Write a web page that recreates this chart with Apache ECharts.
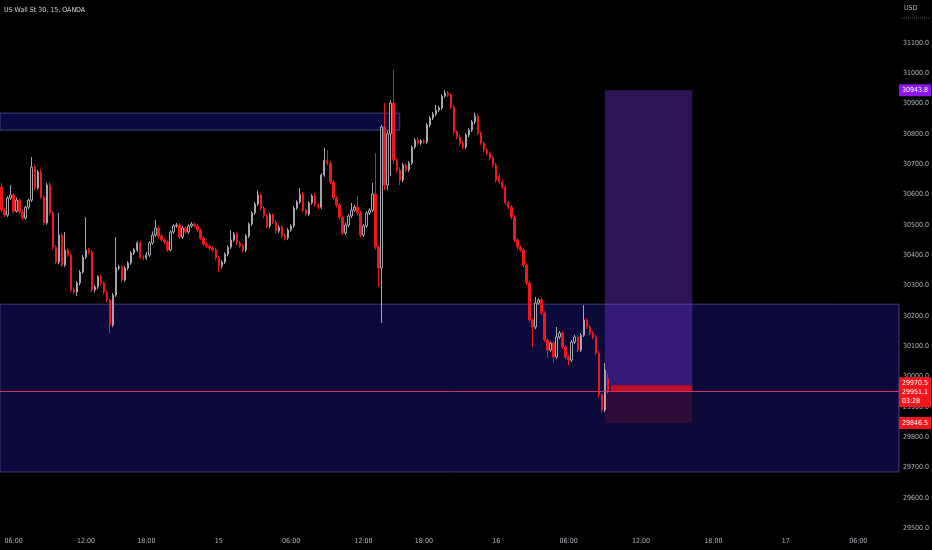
<!DOCTYPE html>
<html>
<head>
<meta charset="utf-8">
<script src="https://cdn.jsdelivr.net/npm/echarts@6/dist/echarts.min.js"></script>
<style>
html,body{margin:0;padding:0;background:#000;}
#c{width:932px;height:550px;}
</style>
</head>
<body>
<div id="c"></div>
<script>
// ---- DATA ----
const chartTitle = 'US Wall St 30, 15, OANDA';
const currency = 'USD';
// 15-minute candles: [open, close, low, high]
const ohlc = [
[30624,30548,30540,30638],[30548,30532,30525,30556],[30532,30588,30526,30594],[30588,30598,30582,30631],
[30598,30545,30538,30604],[30545,30581,30540,30590],[30581,30542,30535,30586],[30542,30522,30515,30549],
[30522,30558,30517,30563],[30558,30581,30552,30586],[30581,30690,30575,30723],[30690,30621,30614,30697],
[30621,30674,30615,30680],[30674,30591,30585,30682],[30591,30506,30498,30596],[30506,30631,30500,30638],
[30631,30539,30532,30640],[30539,30426,30418,30545],[30426,30377,30370,30432],[30377,30466,30370,30539],
[30466,30367,30360,30472],[30367,30417,30360,30476],[30417,30400,30394,30424],[30400,30285,30278,30406],
[30285,30278,30270,30292],[30278,30308,30265,30314],[30308,30344,30300,30350],[30344,30393,30338,30400],
[30393,30417,30386,30525],[30417,30410,30402,30424],[30410,30285,30278,30416],[30285,30295,30276,30302],
[30295,30328,30288,30334],[30328,30308,30300,30335],[30308,30278,30270,30314],[30278,30252,30245,30284],
[30252,30169,30143,30258],[30169,30268,30162,30275],[30268,30357,30262,30459],[30357,30361,30350,30368],
[30361,30318,30311,30367],[30318,30357,30312,30364],[30357,30374,30350,30380],[30374,30407,30368,30413],
[30407,30417,30400,30424],[30417,30440,30410,30446],[30440,30393,30386,30446],[30393,30390,30382,30400],
[30390,30400,30384,30410],[30400,30440,30394,30446],[30440,30466,30434,30478],[30466,30489,30460,30516],
[30489,30463,30456,30495],[30463,30450,30444,30470],[30450,30443,30436,30456],[30443,30417,30410,30449],
[30417,30476,30412,30482],[30476,30496,30470,30502],[30496,30499,30490,30506],[30499,30459,30452,30505],
[30459,30489,30453,30495],[30489,30476,30470,30495],[30476,30496,30470,30502],[30496,30502,30490,30509],
[30502,30496,30489,30508],[30496,30483,30476,30502],[30483,30456,30450,30489],[30456,30436,30430,30462],
[30436,30430,30423,30442],[30430,30423,30416,30436],[30423,30417,30410,30430],[30417,30390,30382,30423],
[30390,30364,30344,30396],[30364,30377,30356,30384],[30377,30403,30370,30409],[30403,30426,30396,30432],
[30426,30450,30420,30483],[30450,30469,30444,30476],[30469,30440,30434,30475],[30440,30430,30424,30446],
[30430,30417,30410,30436],[30417,30463,30410,30469],[30463,30502,30456,30508],[30502,30539,30496,30545],
[30539,30568,30532,30575],[30568,30598,30562,30614],[30598,30555,30548,30604],[30555,30529,30522,30562],
[30529,30496,30489,30535],[30496,30532,30490,30539],[30532,30509,30502,30538],[30509,30479,30472,30516],
[30479,30492,30473,30499],[30492,30463,30456,30498],[30463,30456,30448,30470],[30456,30483,30450,30490],
[30483,30496,30477,30502],[30496,30555,30490,30561],[30555,30575,30549,30581],[30575,30601,30568,30621],
[30601,30548,30541,30608],[30548,30535,30528,30555],[30535,30572,30528,30578],[30572,30595,30566,30601],
[30595,30565,30558,30605],[30565,30558,30550,30572],[30558,30664,30552,30670],[30664,30713,30658,30753],
[30713,30703,30696,30746],[30703,30641,30634,30710],[30641,30588,30581,30648],[30588,30565,30558,30595],
[30565,30525,30518,30572],[30525,30473,30466,30531],[30473,30499,30466,30506],[30499,30529,30492,30535],
[30529,30548,30522,30572],[30548,30558,30542,30565],[30558,30539,30532,30595],[30539,30466,30459,30545],
[30466,30496,30460,30502],[30496,30539,30489,30545],[30539,30548,30532,30555],[30548,30601,30542,30638],
[30601,30426,30418,30736],[30426,30357,30295,30432],[30357,30822,30176,30829],[30822,30631,30614,30901],
[30631,30800,30614,30810],[30800,30901,30660,30911],[30901,30713,30700,31010],[30713,30680,30672,30720],
[30680,30647,30631,30690],[30647,30697,30640,30704],[30697,30680,30672,30704],[30680,30703,30674,30710],
[30703,30756,30697,30762],[30756,30779,30750,30786],[30779,30769,30762,30786],[30769,30776,30762,30782],
[30776,30773,30766,30782],[30773,30829,30766,30835],[30829,30852,30822,30858],[30852,30865,30845,30872],
[30865,30878,30858,30895],[30878,30885,30872,30892],[30885,30924,30878,30930],[30924,30934,30918,30944],
[30934,30928,30920,30941],[30928,30888,30880,30934],[30888,30806,30798,30895],[30806,30789,30782,30812],
[30789,30769,30762,30796],[30769,30756,30748,30776],[30756,30796,30750,30802],[30796,30812,30789,30818],
[30812,30839,30806,30845],[30839,30858,30832,30870],[30858,30802,30795,30865],[30802,30769,30762,30808],
[30769,30746,30739,30776],[30746,30736,30729,30752],[30736,30720,30712,30742],[30720,30697,30690,30726],
[30697,30647,30640,30704],[30661,30641,30634,30668],[30641,30624,30617,30648],[30624,30572,30565,30631],
[30572,30558,30551,30578],[30558,30525,30518,30565],[30525,30450,30443,30532],[30450,30426,30419,30456],
[30426,30417,30410,30432],[30417,30367,30360,30423],[30367,30308,30300,30373],[30308,30186,30178,30314],
[30186,30163,30097,30192],[30163,30242,30156,30262],[30242,30252,30236,30258],[30252,30209,30202,30258],
[30209,30120,30113,30215],[30120,30087,30061,30126],[30087,30110,30080,30116],[30110,30064,30044,30116],
[30064,30130,30057,30163],[30130,30143,30123,30150],[30143,30097,30090,30150],[30097,30064,30057,30104],
[30064,30054,30037,30070],[30054,30113,30047,30120],[30113,30130,30106,30137],[30130,30087,30080,30136],
[30087,30136,30080,30143],[30136,30186,30130,30235],[30186,30163,30156,30192],[30163,30143,30136,30170],
[30143,30130,30122,30150],[30130,30077,30070,30137],[30077,29939,29930,30084],[29939,29889,29879,29946],
[29889,30021,29882,30044],[29993,29951.1,29945,30011]
];
const yTicks = [29500,29600,29700,29800,29900,30000,30100,30200,30300,30400,30500,30600,30700,30800,30900,31000,31100];
const xTickTimes = ['00:00','06:00','12:00','18:00'];
// zones (price levels)
const resistanceZone = [30868, 30812];   // top-left box
const supportZone = [30238, 29685];      // wide box
const targetPrice = 30943.8;
const entryPrice = 29970.5;
const stopPrice = 29846.5;
const lastPrice = 29951.1;
const countdown = '03:28';

// ---- time categories (15 min bars, session break 17:00-18:00 on past bars) ----
const nSlots = 298;
function pad(n){return (n<10?'0':'')+n;}
const cats = [];
(function(){
  let d=14,h=5,m=0;
  for (let k=0;k<nSlots;k++){
    cats.push(d+' '+pad(h)+':'+pad(m));
    m+=15; if(m===60){m=0;h++; if(h===24){h=0;d++;}}
    if (k+1 < ohlc.length && h===17 && m===0) { h=18; }
  }
})();
const boxEndIdx = 132, toolStartIdx = 200, toolEndIdx = 229, pnlStartIdx = 202;

const FONT = "'Liberation Sans Narrow','DejaVu Sans Condensed','Liberation Sans',sans-serif";
const RED = '#f0161c';
const PRICE_LINE = '#d8306a';
const chart = echarts.init(document.getElementById('c'), null, {renderer:'canvas'});
function tag(bg, text, extra){
  return Object.assign({show:true, position:'end', distance:0, formatter:text, color:'#fff',
    backgroundColor:bg, fontFamily:FONT, fontSize:7, padding:[2,3,1,3], lineHeight:9}, extra||{});
}
const hidden = {color:'rgba(0,0,0,0)', width:1};
chart.setOption({
  animation:false,
  backgroundColor:'#000000',
  title:{text:chartTitle, left:4, top:7, padding:0, textStyle:{color:'#d1d4dc', fontSize:7, fontWeight:'normal', fontFamily:FONT}},
  graphic:[
    {type:'text', left:904, top:5, style:{text:currency, fill:'#b2b5be', font:'7px '+FONT}},
    {type:'line', shape:{x1:902,y1:18,x2:929,y2:18}, style:{stroke:'#555a66', lineDash:[1,1], lineWidth:1}}
  ],
  grid:{left:0, right:31, top:0, bottom:18},
  xAxis:{type:'category', data:cats, boundaryGap:true,
    axisLine:{show:false}, axisTick:{show:false}, splitLine:{show:false},
    axisLabel:{color:'#b2b5be', fontSize:7, fontFamily:FONT, margin:6,
      interval:function(i,v){ return xTickTimes.indexOf(v.split(' ')[1])>=0; },
      formatter:function(v){ const p=v.split(' '); return p[1]==='00:00'? p[0] : p[1]; }}},
  yAxis:{type:'value', position:'right', min:29487, max:31241, scale:true,
    axisLine:{show:false}, axisTick:{show:false}, splitLine:{show:false},
    axisLabel:{color:'#b2b5be', fontSize:7, fontFamily:FONT, margin:4, align:'left',
      customValues:yTicks, formatter:function(v){return v.toFixed(1);}}},
  series:[{
    type:'candlestick', data:ohlc, barWidth:'62%',
    itemStyle:{color:'#000000', borderColor:'#a3a6ae', color0:RED, borderColor0:RED, borderWidth:1},
    markArea:{silent:true, data:[
      [{yAxis:supportZone[0], itemStyle:{color:'#0b0a3a', borderColor:'#3f3d7e', borderWidth:1}}, {yAxis:supportZone[1]}],
      [{yAxis:resistanceZone[0], itemStyle:{color:'#0b0a3e', borderColor:'#45438a', borderWidth:1}}, {xAxis:cats[boxEndIdx], yAxis:resistanceZone[1]}],
      [{xAxis:cats[toolStartIdx], yAxis:targetPrice, itemStyle:{color:'rgba(140,60,255,0.33)'}}, {xAxis:cats[toolEndIdx], yAxis:entryPrice}],
      [{xAxis:cats[toolStartIdx], yAxis:entryPrice, itemStyle:{color:'rgba(200,20,50,0.2)'}}, {xAxis:cats[toolEndIdx], yAxis:stopPrice}],
      [{xAxis:cats[pnlStartIdx], yAxis:entryPrice, itemStyle:{color:'rgba(225,16,36,0.8)'}}, {xAxis:cats[toolEndIdx], yAxis:lastPrice}]
    ]},
    markLine:{silent:true, symbol:['none','none'], animation:false,
      lineStyle:{color:PRICE_LINE, width:1, type:'solid', opacity:1},
      emphasis:{disabled:true},
      data:[
      {yAxis:lastPrice, lineStyle:{color:PRICE_LINE, width:1, type:'solid', opacity:1},
        label:tag(RED, lastPrice.toFixed(1)+'\n'+countdown, {offset:[0,5], padding:[2,3,2,3]})},
      {yAxis:targetPrice, lineStyle:hidden, label:tag('#8c14f0', targetPrice.toFixed(1))},
      {yAxis:entryPrice, lineStyle:hidden, label:tag(RED, entryPrice.toFixed(1), {offset:[0,-2]})},
      {yAxis:stopPrice, lineStyle:hidden, label:tag(RED, stopPrice.toFixed(1))}
    ]}
  }]
});
</script>
</body>
</html>
